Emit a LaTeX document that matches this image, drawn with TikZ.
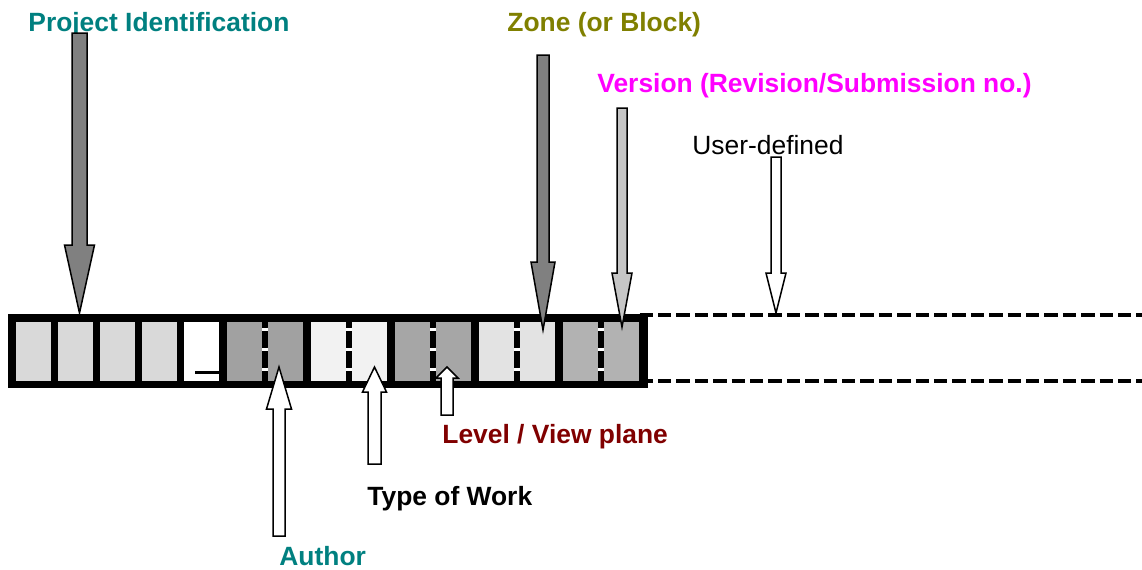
\documentclass[tikz,border=0pt]{standalone}
\usepackage{fontspec}
\setmainfont{Liberation Sans}
\usepackage{xcolor}
\usetikzlibrary{calc}

\definecolor{idteal}{RGB}{0,128,128}
\definecolor{zoneolive}{RGB}{128,128,0}
\definecolor{vermagenta}{RGB}{255,0,255}
\definecolor{levelred}{RGB}{128,0,0}
\definecolor{pidgray}{gray}{0.85}
\definecolor{authgray}{gray}{0.63}
\definecolor{typegray}{gray}{0.95}
\definecolor{levelgray}{gray}{0.65}
\definecolor{zonegray}{gray}{0.89}
\definecolor{vergray}{gray}{0.70}

\tikzset{
	cell/.style={draw=none, minimum width=17.5pt, minimum height=29.5pt, inner sep=0pt, anchor=north west},
	lbl/.style={font=\fontsize{13.2}{15}\selectfont\bfseries, inner sep=0pt, anchor=base west},
	blk/.style={draw=black, line width=0.75pt, line join=miter},
	sepgap/.style={white, line width=3pt, dash pattern=on 1.75pt off 8.25pt},
	extline/.style={line width=2pt, dash pattern=on 6.7pt off 2.5pt}
}

% #1 fill, #2 tail, #3 tip, #4 half shaft, #5 half head, #6 head length
\newcommand{\blockarrow}[6]{%
	\draw[blk, fill=#1] let \p1=(#2), \p2=(#3), \p3=($(#3)!#6!(#2)$) in
		(\x1-#4,\y1) -- (\x1-#4,\y3) -- (\x1-#5,\y3) -- (\x2,\y2)
		-- (\x1+#5,\y3) -- (\x1+#4,\y3) -- (\x1+#4,\y1) -- cycle;
}

\begin{document}
\begin{tikzpicture}[x=0.5pt, y=-0.5pt]
		\useasboundingbox (0,0) rectangle (1142,569);

		% the code bar
		\draw[extline] (639.6,315) -- (1142,315);
		\draw[extline] (639.6,381) -- (1142,381);
		\fill (8,314) rectangle (648,388);

		\foreach \x/\shade [count=\i] in {16/pidgray, 58/pidgray, 100/pidgray, 142/pidgray, 184/white,
				227/authgray, 268/authgray, 311/typegray, 352/typegray, 395/levelgray, 436/levelgray,
				479/zonegray, 520/zonegray, 563/vergray, 604/vergray}
			\node[cell, fill=\shade] (c\i) at (\x,322) {};

		\foreach \x in {265,349,433,517,601}
			\draw[sepgap] (\x,327.5) -- (\x,381);

		\draw[line width=1.5pt] (195,372) -- (219,372);

		% labels
		\node[lbl, idteal] (projid) at (28,31) {Project Identification};
		\node[lbl, zoneolive] (zone) at (507,31) {Zone (or Block)};
		\node[lbl, vermagenta] (version) at (597,92) {Version (Revision/Submission no.)};
		\node[lbl, font=\fontsize{13.2}{15}\selectfont] (userdef) at (692,154) {User-defined};
		\node[lbl, levelred] (level) at (442,443) {Level / View plane};
		\node[lbl] (worktype) at (367,505) {Type of Work};
		\node[lbl, idteal] (author) at (279,565) {Author};

		% arrows
		\coordinate (projtail) at (79.5,33);
		\coordinate (projtip) at (79.5,313);
		\coordinate (zonetail) at (543,55);
		\coordinate (zonetip) at (543,330);
		\coordinate (vertail) at (622,108);
		\coordinate (vertip) at (622,327);
		\coordinate (usertail) at (776,157);
		\coordinate (usertip) at (776,313);
		\coordinate (authtail) at (279,536);
		\coordinate (authtip) at (279,367);
		\coordinate (typetail) at (374.5,464);
		\coordinate (typetip) at (374.5,367);
		\coordinate (leveltail) at (447,415);
		\coordinate (leveltip) at (447,367);

		\blockarrow{gray}{projtail}{projtip}{3.75pt}{7.5pt}{34pt}
		\blockarrow{gray}{zonetail}{zonetip}{3pt}{6pt}{34pt}
		\blockarrow{gray!45}{vertail}{vertip}{2.5pt}{5pt}{27pt}
		\blockarrow{white}{usertail}{usertip}{2.5pt}{5pt}{20pt}
		\blockarrow{white}{authtail}{authtip}{3pt}{6.25pt}{21pt}
		\blockarrow{white}{typetail}{typetip}{3.25pt}{6pt}{12.5pt}
		\blockarrow{white}{leveltail}{leveltip}{3pt}{5.5pt}{5.5pt}
\end{tikzpicture}
\end{document}
